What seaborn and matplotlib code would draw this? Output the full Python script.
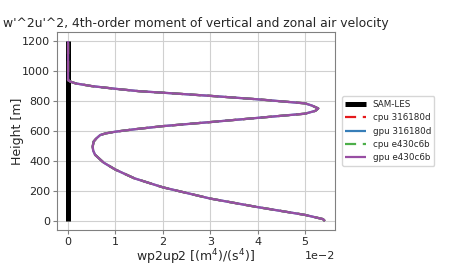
import numpy as np
import pandas as pd
import matplotlib
matplotlib.use("Agg")
import matplotlib.pyplot as plt
import seaborn as sns

# ---- data ----
sam_height = [0, 1200]
sam_value = [0.0, 0.0]

height = [0, 13, 41, 93, 150, 225, 285, 343, 390, 442, 470, 497, 530, 552, 574,
          585, 596, 612, 633, 660, 688, 716, 735, 751, 770, 785, 812, 835, 856,
          866, 882, 900, 918, 930, 940, 1000, 1100, 1200]
value_e2 = [5.42, 5.38, 5.0, 4.0, 3.0, 2.0, 1.4, 1.0, 0.75, 0.57, 0.53, 0.52, 0.54,
            0.6, 0.68, 0.8, 1.0, 1.4, 2.0, 3.0, 4.0, 5.0, 5.22, 5.28, 5.15, 5.0,
            4.0, 3.0, 2.0, 1.5, 1.0, 0.5, 0.16, 0.05, 0.0, 0.0, 0.0, 0.0]
series_names = ["cpu 316180d", "gpu 316180d", "cpu e430c6b", "gpu e430c6b"]
series_colors = ["#e41a1c", "#377eb8", "#4daf4a", "#984ea3"]
series_dashed = [True, False, True, False]

values = [v * 0.01 for v in value_e2]

sns.set_style("white")
plt.rcParams['font.family'] = ['DejaVu Sans']

fig = plt.figure(figsize=(4.5, 2.7), dpi=100)
ax = fig.add_axes([0.127, 0.148, 0.617, 0.733])

sam_df = pd.DataFrame({"x": sam_value, "y": sam_height})
sns.lineplot(data=sam_df, x="x", y="y", orient="y", sort=False, estimator=None,
             color="black", linewidth=3.6, ax=ax, label="SAM-LES",
             solid_capstyle="butt")

for name, col, dashed in zip(series_names, series_colors, series_dashed):
    df = pd.DataFrame({"x": values, "y": height})
    sns.lineplot(data=df, x="x", y="y", orient="y", sort=False, estimator=None,
                 color=col, linewidth=1.6, ax=ax, label=name,
                 linestyle=(0, (5, 3)) if dashed else "-",
                 solid_capstyle="butt", dash_capstyle="butt",
                 solid_joinstyle="round")

ax.set_xlim(-0.0023, 0.0563)
ax.set_ylim(-60, 1260)
ax.set_xticks([0, 0.01, 0.02, 0.03, 0.04, 0.05])
ax.set_yticks([0, 200, 400, 600, 800, 1000, 1200])
ax.ticklabel_format(axis="x", style="sci", scilimits=(0, 0))
ax.xaxis.get_offset_text().set_fontsize(8)
ax.grid(True, color="#d0d0d0", linewidth=0.8)
for s in ax.spines.values():
    s.set_color("#808080")
    s.set_linewidth(0.8)
ax.tick_params(axis="both", labelsize=8, length=3, pad=2, color="#808080",
               bottom=True, left=True)

ax.set_title("w'^2u'^2, 4th-order moment of vertical and zonal air velocity",
             fontsize=8.9, pad=4)
ax.set_xlabel("wp2up2 [(m$^4$)/(s$^4$)]", fontsize=9, labelpad=0.5)
ax.set_ylabel("Height [m]", fontsize=9, labelpad=-1.5)

leg = ax.legend(loc="center left", bbox_to_anchor=(1.01, 0.5), fontsize=6.3,
                frameon=True, handlelength=2.3)
leg.get_frame().set_edgecolor("#cccccc")

fig.savefig("out.png", dpi=100)
